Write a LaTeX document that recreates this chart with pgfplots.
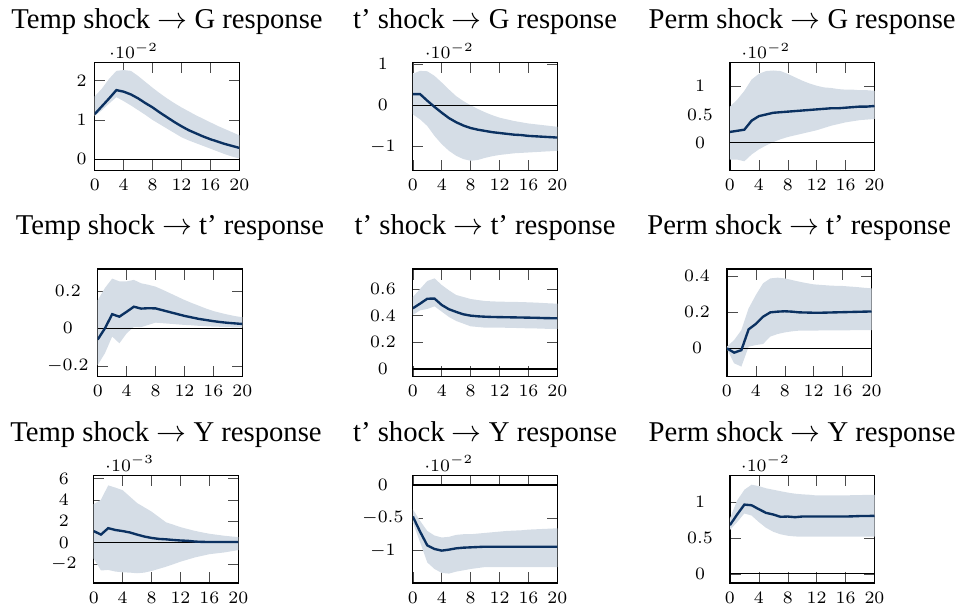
\documentclass[border=0pt]{standalone}
\usepackage{fontspec}
\setmainfont{Liberation Serif}
\usepackage{pgfplots}
\pgfplotsset{compat=1.18}
\usepackage{pgfplotstable}
\usepgfplotslibrary{fillbetween}

\definecolor{navy}{RGB}{11,49,97}
\definecolor{bandc}{RGB}{213,221,230}

\pgfplotstableread{
t lo mid hi
0 0.0110 0.0115 0.0160
1 0.0125 0.0135 0.0180
2 0.0142 0.0155 0.0205
3 0.0158 0.0176 0.0225
4 0.0148 0.0172 0.0227
5 0.0137 0.0165 0.0225
6 0.0125 0.0155 0.0212
7 0.0113 0.0143 0.0197
8 0.0100 0.0132 0.0182
9 0.0089 0.0119 0.0168
10 0.0078 0.0107 0.0155
11 0.0067 0.0095 0.0143
12 0.0056 0.0084 0.0132
13 0.0048 0.0074 0.0122
14 0.0041 0.0066 0.0112
15 0.0034 0.0058 0.0103
16 0.0027 0.0051 0.0094
17 0.0020 0.0045 0.0085
18 0.0013 0.0039 0.0077
19 0.0007 0.0034 0.0069
20 0.0002 0.0029 0.0061
}\tA

\pgfplotstableread{
t lo mid hi
0 -0.0022 0.0027 0.0076
1 -0.0034 0.0027 0.0083
2 -0.0050 0.0011 0.0082
3 -0.0074 -0.0004 0.0071
4 -0.0094 -0.0018 0.0055
5 -0.0110 -0.0031 0.0038
6 -0.0122 -0.0041 0.0022
7 -0.0130 -0.0049 0.0010
8 -0.0134 -0.0055 0.0000
9 -0.0132 -0.0059 -0.0009
10 -0.0127 -0.0062 -0.0017
11 -0.0123 -0.0065 -0.0024
12 -0.0120 -0.0067 -0.0030
13 -0.0118 -0.0069 -0.0034
14 -0.0116 -0.0071 -0.0038
15 -0.0115 -0.0072 -0.0041
16 -0.0114 -0.0074 -0.0044
17 -0.0113 -0.0075 -0.0046
18 -0.0112 -0.0076 -0.0048
19 -0.0111 -0.0077 -0.0050
20 -0.0110 -0.0078 -0.0052
}\tB

\pgfplotstableread{
t lo mid hi
0 -0.0030 0.0019 0.0064
1 -0.0030 0.0021 0.0076
2 -0.0033 0.0023 0.0092
3 -0.0021 0.0039 0.0112
4 -0.0012 0.0047 0.0122
5 -0.0005 0.0050 0.0127
6 0.0001 0.0053 0.0128
7 0.0006 0.0054 0.0127
8 0.0010 0.0055 0.0122
9 0.0013 0.0056 0.0116
10 0.0016 0.0057 0.0110
11 0.0019 0.0058 0.0105
12 0.0022 0.0059 0.0101
13 0.0026 0.0060 0.0098
14 0.0030 0.0061 0.0097
15 0.0033 0.0061 0.0095
16 0.0036 0.0062 0.0094
17 0.0038 0.0063 0.0094
18 0.0040 0.0064 0.0093
19 0.0041 0.0064 0.0093
20 0.0042 0.0065 0.0092
}\tC

\pgfplotstableread{
t lo mid hi
0 -0.196 -0.060 0.150
1 -0.133 0.000 0.215
2 -0.044 0.075 0.265
3 -0.080 0.062 0.250
4 -0.027 0.088 0.250
5 0.008 0.115 0.258
6 0.006 0.105 0.240
7 0.018 0.107 0.232
8 0.030 0.106 0.222
9 0.027 0.096 0.205
10 0.024 0.086 0.187
11 0.021 0.076 0.169
12 0.018 0.066 0.151
13 0.016 0.058 0.135
14 0.013 0.050 0.120
15 0.011 0.044 0.105
16 0.009 0.038 0.092
17 0.008 0.033 0.082
18 0.006 0.029 0.073
19 0.005 0.026 0.065
20 0.004 0.023 0.059
}\tD

\pgfplotstableread{
t lo mid hi
0 0.405 0.455 0.540
1 0.440 0.490 0.600
2 0.450 0.527 0.660
3 0.470 0.528 0.680
4 0.430 0.480 0.630
5 0.390 0.448 0.590
6 0.360 0.428 0.555
7 0.340 0.410 0.540
8 0.320 0.400 0.525
9 0.315 0.395 0.517
10 0.310 0.392 0.510
11 0.310 0.390 0.507
12 0.310 0.389 0.505
13 0.309 0.388 0.504
14 0.308 0.387 0.503
15 0.306 0.386 0.502
16 0.305 0.385 0.500
17 0.304 0.384 0.498
18 0.302 0.382 0.495
19 0.301 0.381 0.492
20 0.300 0.380 0.490
}\tE

\pgfplotstableread{
t lo mid hi
0 -0.004 0.000 0.009
1 -0.083 -0.024 0.046
2 -0.101 -0.010 0.101
3 0.009 0.105 0.221
4 0.018 0.135 0.295
5 0.024 0.175 0.360
6 0.065 0.199 0.387
7 0.079 0.203 0.391
8 0.088 0.205 0.387
9 0.094 0.203 0.378
10 0.098 0.199 0.369
11 0.098 0.198 0.361
12 0.098 0.197 0.354
13 0.099 0.197 0.351
14 0.099 0.198 0.348
15 0.100 0.199 0.346
16 0.100 0.200 0.345
17 0.100 0.201 0.342
18 0.101 0.202 0.339
19 0.101 0.203 0.335
20 0.101 0.204 0.332
}\tF

\pgfplotstableread{
t lo mid hi
0 -0.00148 0.00108 0.00360
1 -0.00260 0.00075 0.00400
2 -0.00255 0.00135 0.00535
3 -0.00270 0.00118 0.00514
4 -0.00277 0.00108 0.00490
5 -0.00280 0.00095 0.00430
6 -0.00286 0.00075 0.00370
7 -0.00280 0.00057 0.00330
8 -0.00265 0.00044 0.00290
9 -0.00245 0.00035 0.00240
10 -0.00225 0.00031 0.00190
11 -0.00202 0.00025 0.00168
12 -0.00178 0.00020 0.00145
13 -0.00158 0.00017 0.00127
14 -0.00138 0.00010 0.00110
15 -0.00123 0.00007 0.00096
16 -0.00108 0.00006 0.00083
17 -0.00100 0.00006 0.00074
18 -0.00092 0.00006 0.00065
19 -0.00081 0.00006 0.00058
20 -0.00070 0.00006 0.00052
}\tG

\pgfplotstableread{
t lo mid hi
0 -0.00570 -0.00480 -0.00370
1 -0.00870 -0.00710 -0.00545
2 -0.01180 -0.00920 -0.00700
3 -0.01280 -0.00975 -0.00770
4 -0.01340 -0.01000 -0.00800
5 -0.01350 -0.00985 -0.00790
6 -0.01320 -0.00965 -0.00760
7 -0.01300 -0.00955 -0.00750
8 -0.01280 -0.00950 -0.00750
9 -0.01265 -0.00945 -0.00740
10 -0.01250 -0.00940 -0.00730
11 -0.01250 -0.00940 -0.00720
12 -0.01250 -0.00940 -0.00710
13 -0.01250 -0.00940 -0.00700
14 -0.01250 -0.00940 -0.00695
15 -0.01250 -0.00940 -0.00690
16 -0.01250 -0.00940 -0.00680
17 -0.01250 -0.00940 -0.00675
18 -0.01250 -0.00940 -0.00670
19 -0.01250 -0.00940 -0.00665
20 -0.01250 -0.00940 -0.00660
}\tH

\pgfplotstableread{
t lo mid hi
0 0.00610 0.00677 0.00770
1 0.00720 0.00825 0.01020
2 0.00840 0.00963 0.01170
3 0.00810 0.00954 0.01240
4 0.00720 0.00899 0.01220
5 0.00640 0.00848 0.01190
6 0.00585 0.00825 0.01170
7 0.00550 0.00793 0.01150
8 0.00530 0.00797 0.01130
9 0.00520 0.00788 0.01115
10 0.00516 0.00797 0.01106
11 0.00516 0.00797 0.01100
12 0.00516 0.00797 0.01090
13 0.00516 0.00797 0.01090
14 0.00516 0.00797 0.01090
15 0.00516 0.00797 0.01090
16 0.00516 0.00797 0.01090
17 0.00516 0.00800 0.01095
18 0.00516 0.00804 0.01095
19 0.00516 0.00805 0.01100
20 0.00516 0.00806 0.01100
}\tI

\pgfplotsset{
  irf/.style={
    scale only axis, width=58pt, height=43.2pt,
    anchor=north west,
    xmin=0, xmax=20, xtick={0,4,8,12,16,20},
    tick label style={font=\fontsize{7.2}{8}\selectfont},
    yticklabel style={anchor=center, xshift=-12pt},
    ytick scale label code/.code={},
    title style={at={(0.5,1)}, anchor=base, yshift=7.8pt,
      font=\fontsize{11.5}{13}\selectfont},
    tick style={black!70},
    axis line style={black, line width=0.5pt},
  },
  scalelab/.style 2 args={
    extra description/.code={%
      \node[anchor=south west, inner sep=0pt, xshift=#2, yshift=1.4pt,
        font=\fontsize{7.2}{8}\selectfont] at (0,1) {$\cdot 10^{#1}$};}
  }
}

\newcommand{\irfbody}[1]{%
  \addplot[name path=hi, draw=none, forget plot] table[x=t,y=hi]{#1};
  \addplot[name path=lo, draw=none, forget plot] table[x=t,y=lo]{#1};
  \addplot[bandc, draw=none] fill between[of=hi and lo];
  \addplot[black, line width=0.45pt] coordinates {(0,0) (20,0)};
  \addplot[navy, line width=0.95pt] table[x=t,y=mid]{#1};
}

\begin{document}
\begin{tikzpicture}
\path (0pt,0pt) rectangle (385.6pt,-244.8pt);

% Row 1
\begin{axis}[irf, at={(38pt,-24.8pt)},
  title={Temp shock $\rightarrow$ G response},
  ymin=-0.0028, ymax=0.0246, ytick={0,0.01,0.02},
  scaled y ticks=base 10:2, scalelab={-2}{5.6pt},
  yticklabel style={xshift=6.7pt}]
\irfbody{\tA}
\end{axis}

\begin{axis}[irf, at={(165.6pt,-24.8pt)},
  title={t' shock $\rightarrow$ G response},
  ymin=-0.0157, ymax=0.0103, ytick={-0.01,0,0.01},
  scaled y ticks=base 10:2, scalelab={-2}{4.6pt}]
\irfbody{\tB}
\end{axis}

\begin{axis}[irf, at={(292.8pt,-24.8pt)},
  title={Perm shock $\rightarrow$ G response},
  ymin=-0.0049, ymax=0.0142, ytick={0,0.005,0.01},
  scaled y ticks=base 10:2, scalelab={-2}{4.4pt}]
\irfbody{\tC}
\end{axis}

% Row 2
\begin{axis}[irf, at={(39.2pt,-107.6pt)},
  title={Temp shock $\rightarrow$ t' response},
  ymin=-0.258, ymax=0.316, ytick={-0.2,0,0.2},
  scaled y ticks=false]
\irfbody{\tD}
\end{axis}

\begin{axis}[irf, at={(165.6pt,-107.6pt)},
  title={t' shock $\rightarrow$ t' response},
  ymin=-0.058, ymax=0.75, ytick={0,0.2,0.4,0.6},
  scaled y ticks=false]
\irfbody{\tE}
\end{axis}

\begin{axis}[irf, at={(291.6pt,-107.6pt)},
  title={Perm shock $\rightarrow$ t' response},
  ymin=-0.157, ymax=0.439, ytick={0,0.2,0.4},
  scaled y ticks=false]
\irfbody{\tF}
\end{axis}

% Row 3
\begin{axis}[irf, at={(37.6pt,-190.4pt)},
  title={Temp shock $\rightarrow$ Y response},
  ymin=-0.00378, ymax=0.00628, ytick={-0.002,0,0.002,0.004,0.006},
  scaled y ticks=base 10:3, scalelab={-3}{4.4pt}]
\irfbody{\tG}
\end{axis}

\begin{axis}[irf, at={(165.6pt,-190.4pt)},
  title={t' shock $\rightarrow$ Y response},
  ymin=-0.01495, ymax=0.00146, ytick={-0.01,-0.005,0},
  scaled y ticks=base 10:2, scalelab={-2}{4.4pt}]
\irfbody{\tH}
\end{axis}

\begin{axis}[irf, at={(292.8pt,-190.4pt)},
  title={Perm shock $\rightarrow$ Y response},
  ymin=-0.00129, ymax=0.01369, ytick={0,0.005,0.01},
  scaled y ticks=base 10:2, scalelab={-2}{4.2pt}]
\irfbody{\tI}
\end{axis}
\end{tikzpicture}
\end{document}
